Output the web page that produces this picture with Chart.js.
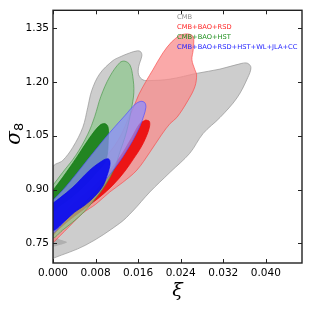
<!DOCTYPE html>
<html>
<head>
<meta charset="utf-8">
<script src="https://cdn.jsdelivr.net/npm/chart.js@4.4.0/dist/chart.umd.min.js"></script>
<style>
  body { margin: 0; background: #fff; }
  #wrap { width: 310px; height: 311px; }
</style>
</head>
<body>
<div id="wrap"><canvas id="myChart" width="310" height="311"></canvas></div>
<script>
// contour outlines, [xi, sigma8]
var cmbOuter = [[0,0.708],[0.00616,0.745],[0.01256,0.806],[0.0150,0.840],[0.0182,0.893],[0.0220,0.948],[0.0257,1.001],[0.0282,1.056],[0.0314,1.101],[0.0346,1.156],[0.0366,1.212],[0.0372,1.240],[0.0366,1.252],[0.0355,1.252],[0.0314,1.236],[0.0270,1.224],[0.0220,1.208],[0.0182,1.204],[0.0169,1.206],[0.0161,1.220],[0.0161,1.2425],[0.0167,1.273],[0.0165,1.284],[0.0159,1.287],[0.0144,1.281],[0.0126,1.270],[0.0112,1.259],[0.00879,1.223],[0.00728,1.176],[0.00653,1.129],[0.00559,1.073],[0.00371,1.0175],[0.00183,0.981],[0,0.962],[0,0.708]];
var cmbInner = [[0,0.740],[0.0012,0.745],[0.0026,0.753],[0.0014,0.760],[0,0.765],[0,0.740]];
var rsdOuter = [[0.02385,1.331],[0.02535,1.334],[0.02635,1.326],[0.02635,1.290],[0.02611,1.262],[0.02667,1.234],[0.02699,1.220],[0.02667,1.187],[0.02535,1.148],[0.02328,1.101],[0.0220,1.084],[0.02046,1.054],[0.0182,1.004],[0.01576,0.954],[0.01312,0.920],[0.01067,0.893],[0.00804,0.859],[0.00559,0.834],[0.00314,0.798],[0.00126,0.770],[0,0.754],[0,0.787],[0.00314,0.856],[0.00691,0.931],[0.00973,0.987],[0.01161,1.023],[0.01293,1.056],[0.01406,1.095],[0.01519,1.131],[0.01613,1.165],[0.01745,1.201],[0.01877,1.234],[0.02065,1.281],[0.0223,1.312],[0.02385,1.331]];
var rsdInner = [[0.01745,1.094],[0.01811,1.090],[0.01811,1.073],[0.01745,1.045],[0.01651,1.017],[0.01519,0.987],[0.0135,0.951],[0.01124,0.912],[0.00879,0.879],[0.00634,0.851],[0.00408,0.826],[0.0022,0.804],[0.0007,0.784],[0,0.773],[0,0.804],[0.0022,0.837],[0.00503,0.876],[0.00747,0.906],[0.01011,0.945],[0.01256,0.990],[0.0148,1.045],[0.01632,1.084],[0.01745,1.094]];
var hstOuter = [[0,0.912],[0.00183,0.948],[0.00427,0.995],[0.00653,1.054],[0.00785,1.104],[0.00898,1.159],[0.01067,1.215],[0.01256,1.254],[0.0135,1.258],[0.01444,1.248],[0.0150,1.215],[0.01519,1.170],[0.01472,1.123],[0.01406,1.076],[0.0135,1.045],[0.01256,1.004],[0.01161,0.962],[0.0104,0.926],[0.00879,0.890],[0.00728,0.862],[0.00559,0.834],[0.00371,0.809],[0.00183,0.787],[0,0.767],[0,0.912]];
var hstInner = [[0,0.898],[0.00183,0.934],[0.00446,0.990],[0.00691,1.045],[0.00879,1.079],[0.00973,1.084],[0.01035,1.074],[0.01039,1.037],[0.01011,0.990],[0.00936,0.967],[0.00823,0.948],[0.00653,0.920],[0.00465,0.893],[0.00277,0.870],[0.00126,0.854],[0,0.840],[0,0.898]];
var allOuter = [[0,0.870],[0.00183,0.898],[0.00446,0.945],[0.00747,1.001],[0.01067,1.059],[0.0135,1.106],[0.01538,1.137],[0.01651,1.146],[0.01726,1.142],[0.01745,1.129],[0.01707,1.106],[0.01632,1.076],[0.0150,1.037],[0.01387,1.009],[0.01256,0.979],[0.01011,0.931],[0.00785,0.893],[0.00559,0.859],[0.00371,0.834],[0.00183,0.806],[0,0.781],[0,0.870]];
var allInner = [[0,0.862],[0.00126,0.876],[0.00371,0.906],[0.00691,0.954],[0.00936,0.981],[0.0103,0.986],[0.01067,0.981],[0.01067,0.965],[0.01011,0.937],[0.00936,0.909],[0.00785,0.881],[0.00597,0.856],[0.00408,0.837],[0.0022,0.812],[0,0.787],[0,0.862]];

var xTicks = [0.000, 0.008, 0.016, 0.024, 0.032, 0.040];
var yTicks = [0.75, 0.90, 1.05, 1.20, 1.35];
var legendLabels = ["CMB", "CMB+BAO+RSD", "CMB+BAO+HST", "CMB+BAO+RSD+HST+WL+JLA+CC"];
var legendColors = ["#8c8c8c", "#ff2020", "#1a8c1a", "#2020ff"];

function pts(arr) {
    return arr.map(function (p) { return { x: p[0], y: p[1] }; });
}

function region(data, fillColor, lineColor, order) {
    return {
        data: pts(data),
        showLine: true,
        fill: "shape",
        backgroundColor: fillColor,
        borderColor: lineColor,
        borderWidth: 0.8,
        pointRadius: 0,
        tension: 0.35,
        order: order,
    };
}

// ticks pointing inward on all four sides, frame, y label and legend text
var framePlugin = {
    id: "frame",
    afterDraw: function (chart) {
        var ctx = chart.ctx;
        var a = chart.chartArea;
        var xs = chart.scales.x;
        var ys = chart.scales.y;
        ctx.save();
        ctx.strokeStyle = "#222";
        ctx.lineWidth = 1;
        ctx.beginPath();
        xTicks.forEach(function (v) {
            var px = Math.round(xs.getPixelForValue(v)) + 0.5;
            ctx.moveTo(px, a.bottom); ctx.lineTo(px, a.bottom - 4);
            ctx.moveTo(px, a.top); ctx.lineTo(px, a.top + 4);
        });
        yTicks.forEach(function (v) {
            var py = Math.round(ys.getPixelForValue(v)) + 0.5;
            ctx.moveTo(a.left, py); ctx.lineTo(a.left + 4, py);
            ctx.moveTo(a.right, py); ctx.lineTo(a.right - 4, py);
        });
        ctx.stroke();
        ctx.lineWidth = 1.4;
        ctx.strokeRect(a.left, a.top, a.right - a.left, a.bottom - a.top);

        // sigma_8 label
        ctx.save();
        ctx.translate(20, (a.top + a.bottom) / 2 + 6);
        ctx.rotate(-Math.PI / 2);
        ctx.fillStyle = "#000";
        ctx.textBaseline = "alphabetic";
        ctx.textAlign = "left";
        ctx.font = "italic 20px 'DejaVu Serif'";
        ctx.fillText("σ", -2, 0);
        var w = ctx.measureText("σ").width;
        ctx.font = "13px 'DejaVu Sans'";
        ctx.fillText("8", -2 + w, 3);
        ctx.restore();

        ctx.font = "6.7px 'DejaVu Sans'";
        ctx.textBaseline = "middle";
        ctx.textAlign = "left";
        for (var i = 0; i < legendLabels.length; i++) {
            ctx.fillStyle = legendColors[i];
            ctx.fillText(legendLabels[i], a.left + 124, a.top + 7 + i * 9.9);
        }
        ctx.restore();
    },
};

var config = {
    type: "scatter",
    data: {
        datasets: [
            region(cmbOuter, "rgb(205,205,205)", "rgba(150,150,150,0.9)", 8),
            region(cmbInner, "rgba(110,110,110,0.3)", "rgba(110,110,110,0)", 7),
            region(rsdOuter, "rgba(248,140,140,0.75)", "rgba(250,70,70,0.8)", 6),
            region(rsdInner, "rgba(236,10,10,0.92)", "rgba(236,10,10,0.92)", 5),
            region(hstOuter, "rgba(140,200,140,0.7)", "rgba(70,150,70,0.8)", 4),
            region(hstInner, "rgba(20,125,20,0.9)", "rgba(20,125,20,0.9)", 3),
            region(allOuter, "rgba(140,140,255,0.72)", "rgba(80,80,255,0.85)", 2),
            region(allInner, "rgba(10,10,235,0.92)", "rgba(10,10,235,0.92)", 1),
        ],
    },
    options: {
        responsive: false,
        animation: false,
        events: [],
        layout: { padding: { top: 9, right: 8, left: 0, bottom: 0 } },
        plugins: {
            legend: { display: false },
            tooltip: { enabled: false },
        },
        scales: {
            x: {
                type: "linear",
                min: 0,
                max: 0.0468,
                grid: { display: false, drawTicks: false },
                border: { display: false },
                afterBuildTicks: function (axis) {
                    axis.ticks = xTicks.map(function (v) { return { value: v }; });
                },
                afterFit: function (axis) { axis.height = 48; },
                ticks: {
                    padding: 4,
                    color: "#000",
                    maxRotation: 0,
                    font: { family: "DejaVu Sans", size: 10.5 },
                    callback: function (v) { return v.toFixed(3); },
                },
                title: {
                    display: true,
                    text: "ξ",
                    color: "#000",
                    padding: { top: 0, bottom: 9 },
                    font: { family: "DejaVu Serif", size: 19, style: "italic" },
                },
            },
            y: {
                type: "linear",
                min: 0.695,
                max: 1.40,
                grid: { display: false, drawTicks: false },
                border: { display: false },
                afterBuildTicks: function (axis) {
                    axis.ticks = yTicks.map(function (v) { return { value: v }; });
                },
                afterFit: function (axis) { axis.width = 53; },
                ticks: {
                    padding: 4,
                    color: "#000",
                    font: { family: "DejaVu Sans", size: 10.5 },
                    callback: function (v) { return v.toFixed(2); },
                },
            },
        },
    },
    plugins: [framePlugin],
};

var myChart = new Chart(document.getElementById("myChart"), config);
</script>
</body>
</html>
